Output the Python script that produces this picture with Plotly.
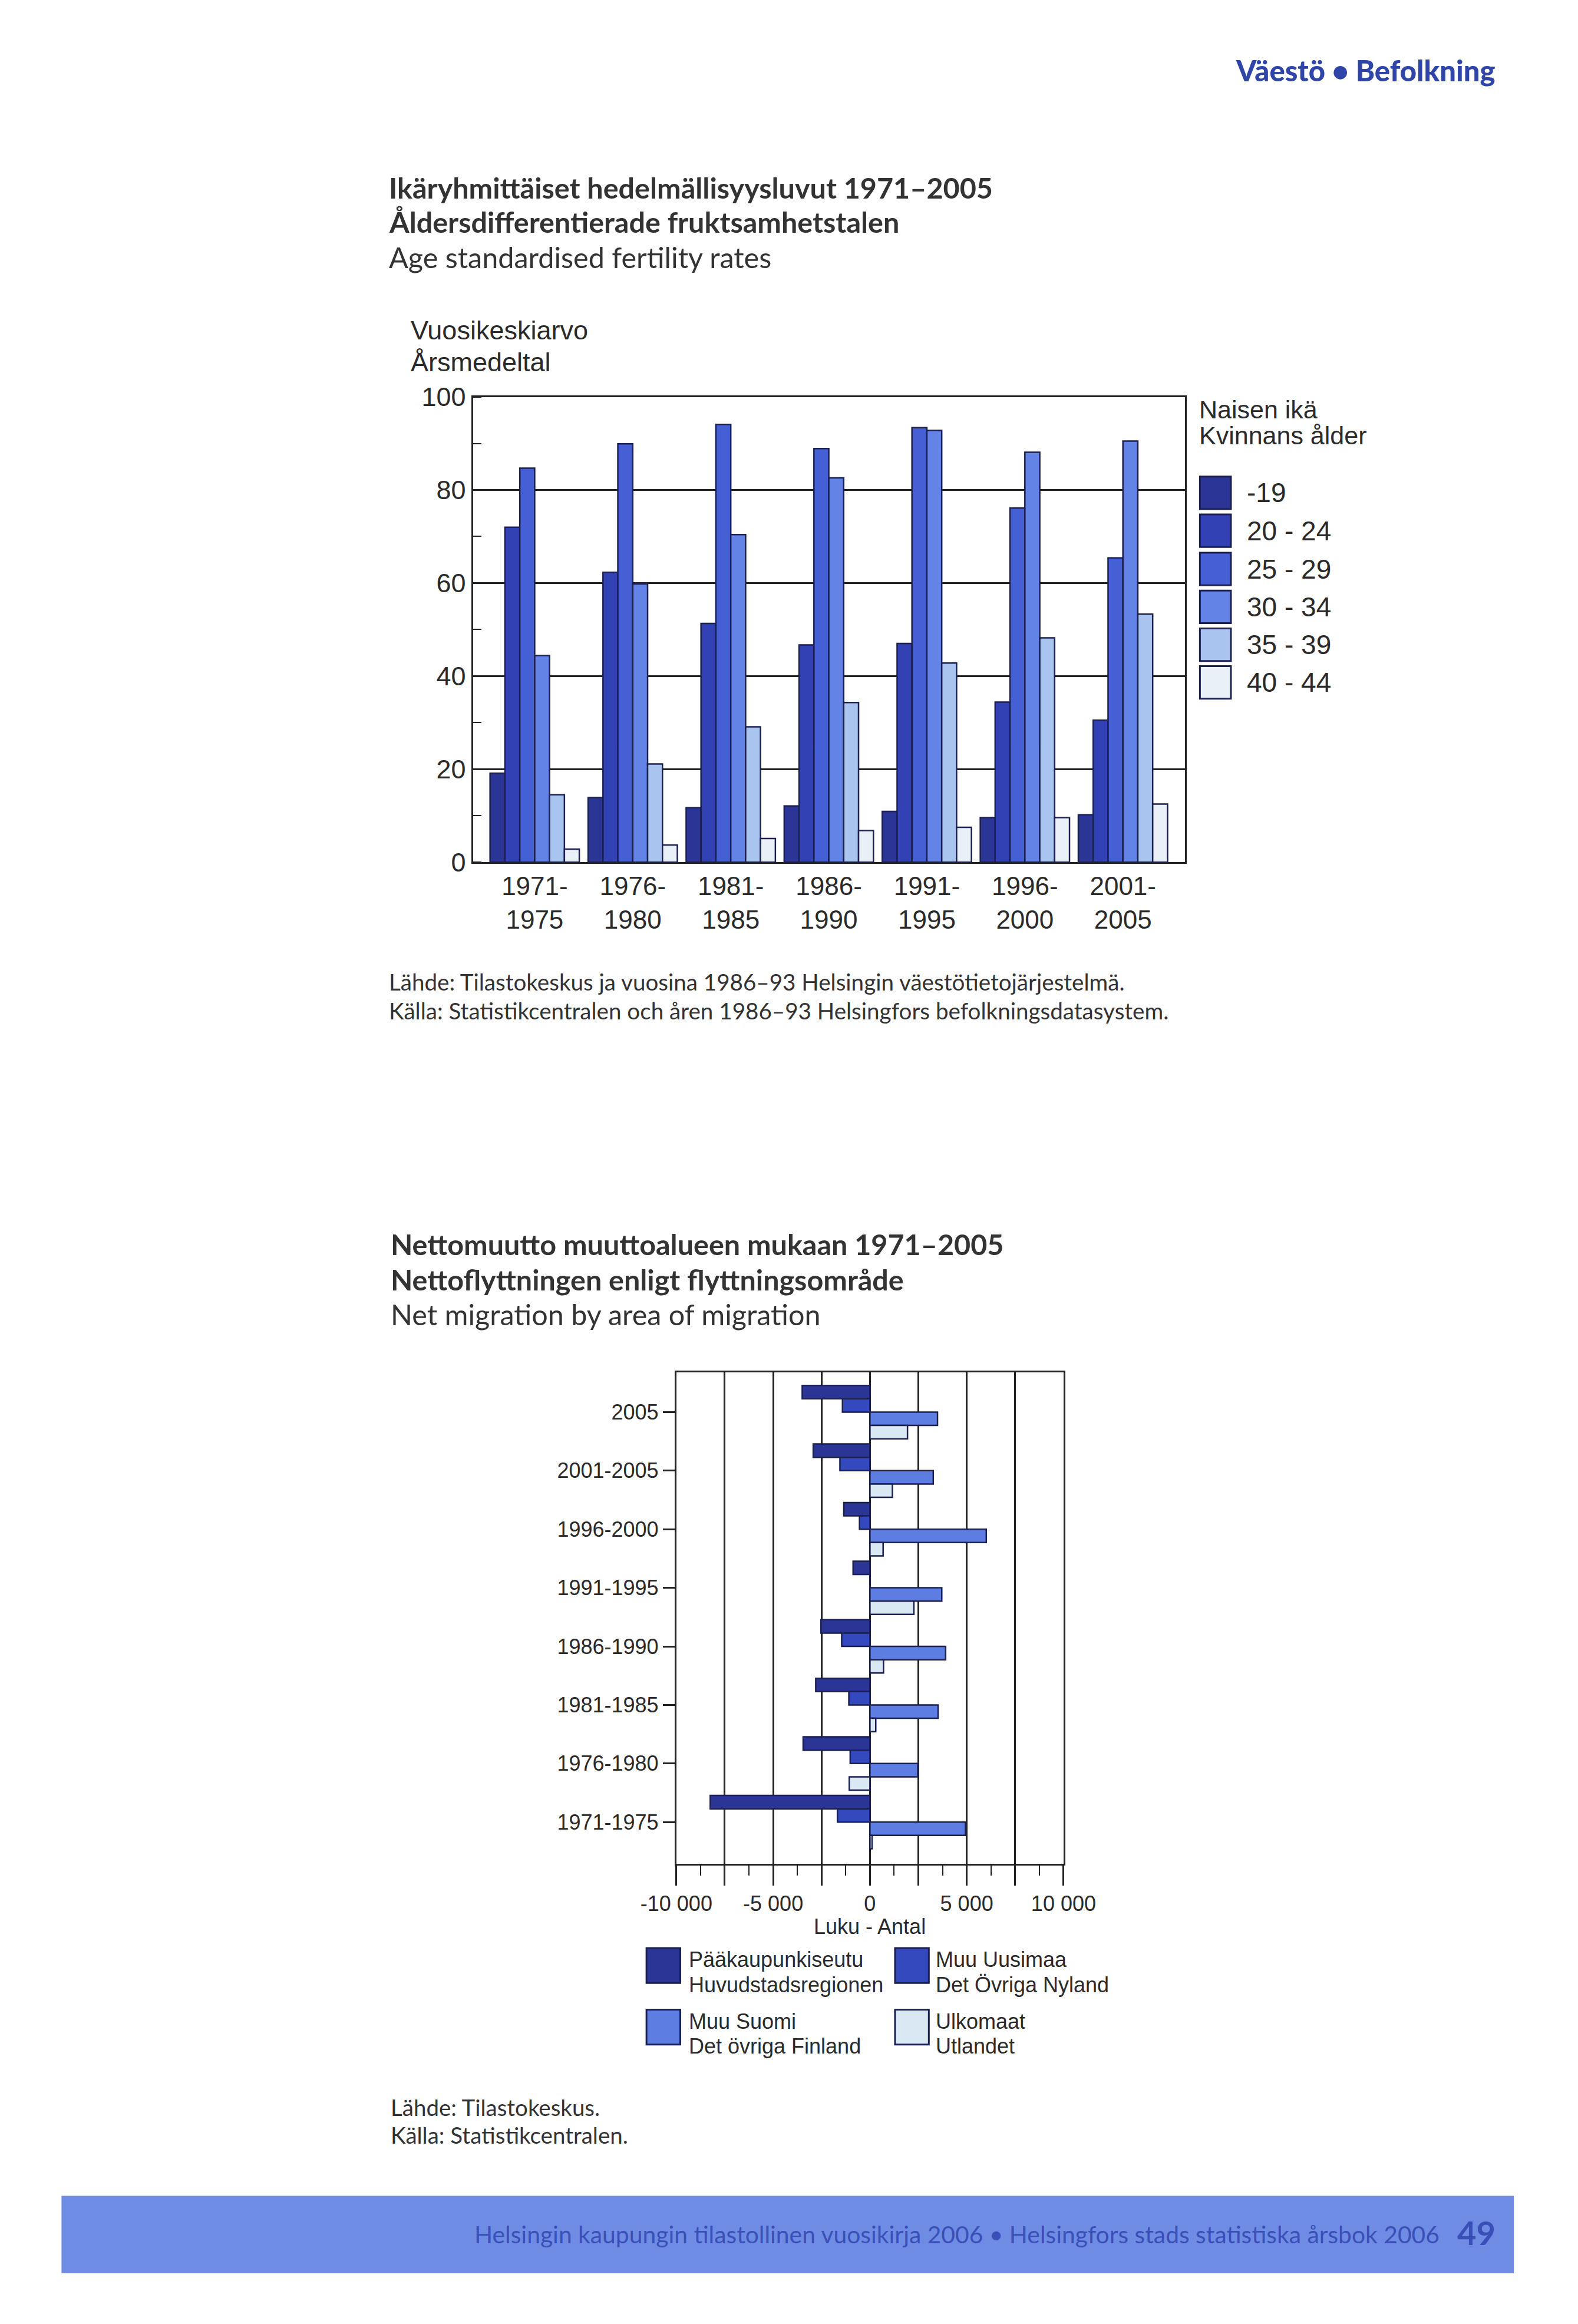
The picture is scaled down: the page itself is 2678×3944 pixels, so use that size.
import plotly.graph_objects as go

# ---------------- data ----------------
periods1 = ["1971-1975", "1976-1980", "1981-1985", "1986-1990", "1991-1995", "1996-2000", "2001-2005"]
period1_ticktext = ["1971-<br>1975", "1976-<br>1980", "1981-<br>1985", "1986-<br>1990",
                    "1991-<br>1995", "1996-<br>2000", "2001-<br>2005"]
age_groups = ["-19", "20 - 24", "25 - 29", "30 - 34", "35 - 39", "40 - 44"]
rate_u19 = [19.1, 13.9, 11.7, 12.1, 10.9, 9.6, 10.2]
rate_20_24 = [72.0, 62.3, 51.3, 46.7, 47.0, 34.4, 30.5]
rate_25_29 = [84.7, 89.9, 94.1, 88.9, 93.4, 76.1, 65.4]
rate_30_34 = [44.4, 59.8, 70.4, 82.6, 92.8, 88.1, 90.5]
rate_35_39 = [14.5, 21.1, 29.1, 34.3, 42.8, 48.2, 53.3]
rate_40_44 = [2.8, 3.7, 5.1, 6.8, 7.5, 9.6, 12.5]
y1_tickvals = [0, 20, 40, 60, 80, 100]

periods2 = ["2005", "2001-2005", "1996-2000", "1991-1995", "1986-1990", "1981-1985", "1976-1980", "1971-1975"]
areas_fi = ["Pääkaupunkiseutu", "Muu Uusimaa", "Muu Suomi", "Ulkomaat"]
areas_sv = ["Huvudstadsregionen", "Det Övriga Nyland", "Det övriga Finland", "Utlandet"]
net_pks = [-3500, -2930, -1350, -870, -2530, -2800, -3450, -8250]
net_muu_uusimaa = [-1420, -1550, -540, 0, -1460, -1090, -1020, -1680]
net_muu_suomi = [3490, 3270, 6010, 3710, 3910, 3520, 2470, 4930]
net_ulkomaat = [1940, 1160, 680, 2270, 700, 300, -1070, 110]
x2_tickvals = [-10000, -7500, -5000, -2500, 0, 2500, 5000, 7500, 10000]
x2_ticktext = ["-10 000", "", "-5 000", "", "0", "", "5 000", "", "10 000"]
x2_minorvals = [-8750, -6250, -3750, -1250, 1250, 3750, 6250, 8750]

# ---------------- styling ----------------
W, H, OFF = 2662, 3928, 8
def X(px):
    return (px - OFF) / W
def Y(py):
    return 1 - (py - OFF) / H

age_colors = ["#2a3596", "#3242b4", "#4460d4", "#6384e6", "#a9c4ee", "#e9f0f8"]
area_colors = ["#2a3596", "#3449bd", "#5d7de2", "#d9e8f3"]
edge = "#1c2050"
txt = "#2a2a2a"
chart_font = "Liberation Sans"
title_font = "Lato"

fig = go.Figure()

series1 = [rate_u19, rate_20_24, rate_25_29, rate_30_34, rate_35_39, rate_40_44]
for name, vals, col in zip(age_groups, series1, age_colors):
    fig.add_trace(go.Bar(x=periods1, y=vals, name=name, marker=dict(color=col, line=dict(color=edge, width=2.5)),
                         xaxis="x", yaxis="y", showlegend=False))

series2 = [net_pks, net_muu_uusimaa, net_muu_suomi, net_ulkomaat]
for name, vals, col in zip(areas_fi, series2, area_colors):
    fig.add_trace(go.Bar(y=periods2, x=vals, name=name, orientation="h",
                         marker=dict(color=col, line=dict(color=edge, width=2.5)),
                         xaxis="x2", yaxis="y2", showlegend=False))

fig.update_layout(
    width=W, height=H, margin=dict(l=0, r=0, t=0, b=0),
    paper_bgcolor="white", plot_bgcolor="white",
    font=dict(family=chart_font, color=txt),
    barmode="group", bargap=0.09, bargroupgap=0,
    xaxis=dict(domain=[X(775), X(2038)], anchor="y", type="category", range=[-0.63, 6.63],
               tickvals=periods1, ticktext=period1_ticktext, ticks="",
               showline=True, linecolor="#222", linewidth=3, mirror=True, showgrid=False,
               tickfont=dict(size=44, color=txt)),
    yaxis=dict(domain=[Y(1457), Y(657)], anchor="x", range=[0, 100], tickvals=y1_tickvals,
               ticks="", showgrid=True, gridcolor="#222", gridwidth=2.5, zeroline=False,
               showline=True, linecolor="#222", linewidth=3, mirror=True,
               minor=dict(dtick=10, ticks="inside", ticklen=14, tickcolor="#222", tickwidth=2, showgrid=False),
               tickfont=dict(size=45, color=txt)),
    xaxis2=dict(domain=[X(1136), X(1823)], anchor="y2", range=[-10000, 10000],
                tickvals=x2_tickvals, ticktext=x2_ticktext, ticks="outside", ticklen=34,
                tickcolor="#222", tickwidth=2.5,
                showgrid=True, gridcolor="#222", gridwidth=2.5, zeroline=False,
                showline=True, linecolor="#222", linewidth=3, mirror=True,
                minor=dict(tickvals=x2_minorvals,
                           ticks="outside", ticklen=17, tickcolor="#222", tickwidth=2, showgrid=False),
                tickfont=dict(size=36, color=txt)),
    yaxis2=dict(domain=[Y(3179), Y(2334)], anchor="x2", type="category", range=[7.71, -0.68],
                ticks="outside", ticklen=20, tickcolor="#222", tickwidth=2.5, showgrid=False,
                showline=True, linecolor="#222", linewidth=3, mirror=True,
                tickfont=dict(size=36, color=txt)),
)

ann = []
def text(x, y, s, size, family=chart_font, color=txt, anchor="left", weight=None):
    f = dict(family=family, size=size, color=color)
    if weight:
        f["weight"] = weight
    ann.append(dict(x=X(x), y=Y(y), xref="paper", yref="paper", text=s, showarrow=False,
                    xanchor=anchor, yanchor="middle", font=f))

# header
text(2592, 95, "Väestö • Befolkning", 49, '"Lato Black", Lato', "#2f46a8", "right", 900)

# chart 1 titles
text(624, 297, "Ikäryhmittäiset hedelmällisyysluvut 1971–2005", 48.5, title_font, "#333", weight=700)
text(624, 356, "Åldersdifferentierade fruktsamhetstalen", 48.5, title_font, "#333", weight=700)
text(624, 416, "Age standardised fertility rates", 48.5, title_font, "#333")
text(662, 542, "Vuosikeskiarvo", 45)
text(662, 597, "Årsmedeltal", 45)

# chart 1 legend
text(2061, 679, "Naisen ikä", 43)
text(2061, 723, "Kvinnans ålder", 43)
leg_y = [822, 887, 953, 1018, 1083, 1148]
shapes = []
for lab, col, yc in zip(age_groups, age_colors, leg_y):
    shapes.append(dict(type="rect", xref="paper", yref="paper", x0=X(2065), x1=X(2120),
                       y0=Y(yc + 28), y1=Y(yc - 28), fillcolor=col, line=dict(color=edge, width=3)))
    text(2146, yc, lab, 46)

# chart 1 source
text(624, 1662, "Lähde: Tilastokeskus ja vuosina 1986–93 Helsingin väestötietojärjestelmä.", 38.6, title_font, "#333")
text(624, 1712, "Källa: Statistikcentralen och åren 1986–93 Helsingfors befolkningsdatasystem.", 38.6, title_font, "#333")

# chart 2 titles
text(627, 2113, "Nettomuutto muuttoalueen mukaan 1971–2005", 48.5, title_font, "#333", weight=700)
text(627, 2174, "Nettoflyttningen enligt flyttningsområde", 48.5, title_font, "#333", weight=700)
text(627, 2234, "Net migration by area of migration", 48.5, title_font, "#333")

# chart 2 axis title
text(1479, 3287, "Luku - Antal", 36, anchor="center")

# chart 2 legend
leg2 = [(1083, 3354, 1156), (1524, 3354, 1594), (1083, 3460, 1156), (1524, 3460, 1594)]
for (sx, sy, tx), fi, sv, col in zip(leg2, areas_fi, areas_sv, area_colors):
    shapes.append(dict(type="rect", xref="paper", yref="paper", x0=X(sx), x1=X(sx + 60),
                       y0=Y(sy + 30), y1=Y(sy - 30), fillcolor=col, line=dict(color=edge, width=3)))
    text(tx, sy - 10, fi, 36)
    text(tx, sy + 33, sv, 36)

# chart 2 source
text(627, 3598, "Lähde: Tilastokeskus.", 38.5, title_font, "#333")
text(627, 3645, "Källa: Statistikcentralen.", 38.5, title_font, "#333")

# footer band
shapes.append(dict(type="rect", xref="paper", yref="paper", x0=X(45), x1=X(2622), y0=Y(3883), y1=Y(3750),
                   fillcolor="#6f8ce4", line=dict(width=0), layer="below"))
text(2492, 3816, "Helsingin kaupungin tilastollinen vuosikirja 2006 • Helsingfors stads statistiska årsbok 2006",
     40.8, title_font, "#3a4fb8", "right")
text(2592, 3813, "49", 56, title_font, "#3a4fb8", "right", 700)

fig.update_layout(annotations=ann, shapes=shapes)
fig.write_html("out.html")
